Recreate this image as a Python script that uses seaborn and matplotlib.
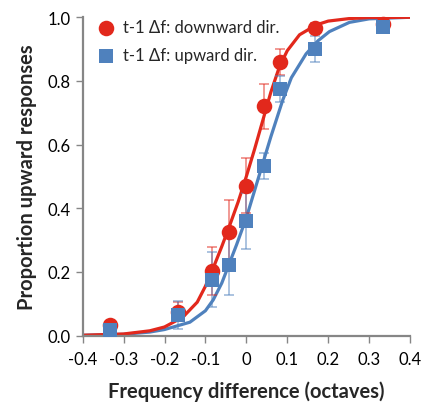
import matplotlib
matplotlib.use("Agg")
import matplotlib.pyplot as plt
import pandas as pd
import seaborn as sns

# measured points (octaves)
freq_diff = [-0.333, -0.167, -0.083, -0.042, 0.0, 0.042, 0.083, 0.167, 0.333]
down_prop = [0.034, 0.075, 0.203, 0.325, 0.471, 0.720, 0.860, 0.966, 0.980]
down_err = [0.010, 0.030, 0.075, 0.100, 0.086, 0.070, 0.040, 0.015, 0.010]
up_prop = [0.016, 0.065, 0.176, 0.222, 0.361, 0.533, 0.775, 0.900, 0.969]
up_err = [0.010, 0.045, 0.085, 0.095, 0.088, 0.042, 0.040, 0.040, 0.010]

# fitted curves
down_fit_x = [-0.4, -0.3, -0.236, -0.2, -0.155, -0.12, -0.1, -0.077, -0.06, -0.041,
              -0.02, 0.0, 0.02, 0.04, 0.06, 0.081, 0.1, 0.13, 0.171, 0.2, 0.252, 0.3, 0.4]
down_fit_y = [0.001, 0.005, 0.015, 0.027, 0.058, 0.105, 0.155, 0.225, 0.28, 0.345,
              0.42, 0.50, 0.585, 0.675, 0.765, 0.845, 0.895, 0.945, 0.976, 0.988, 0.996, 0.999, 1.0]
up_fit_x = [-0.4, -0.3, -0.236, -0.2, -0.138, -0.1, -0.081, -0.06, -0.045, -0.024,
            0.0, 0.02, 0.04, 0.06, 0.089, 0.11, 0.146, 0.175, 0.203, 0.252, 0.3, 0.4]
up_fit_y = [0.001, 0.004, 0.011, 0.019, 0.042, 0.078, 0.112, 0.165, 0.215, 0.285,
            0.37, 0.455, 0.54, 0.625, 0.74, 0.81, 0.885, 0.926, 0.955, 0.984, 0.995, 1.0]

x_ticks = [-0.4, -0.3, -0.2, -0.1, 0.0, 0.1, 0.2, 0.3, 0.4]
x_tick_labels = ["-0.4", "-0.3", "-0.2", "-0.1", "0", "0.1", "0.2", "0.3", "0.4"]
y_ticks = [0.0, 0.2, 0.4, 0.6, 0.8, 1.0]
y_tick_labels = ["0.0", "0.2", "0.4", "0.6", "0.8", "1.0"]

red = "#E2281C"
blue = "#4F81BD"
axis_grey = "#868686"

sns.set_style("white")
plt.rcParams["font.family"] = ["Lato", "DejaVu Sans"]

fig = plt.figure(figsize=(4.24, 4.06), dpi=100)
ax = fig.add_axes([0.195, 0.171, 0.772, 0.784])

fits = pd.concat([
    pd.DataFrame({"x": down_fit_x, "y": down_fit_y, "cond": "down"}),
    pd.DataFrame({"x": up_fit_x, "y": up_fit_y, "cond": "up"}),
])
sns.lineplot(data=fits, x="x", y="y", hue="cond", palette={"down": red, "up": blue},
             hue_order=["up", "down"], linewidth=2.3, legend=False, ax=ax, sort=True)

ax.errorbar(freq_diff, down_prop, yerr=down_err, fmt="none", ecolor=red, alpha=0.6,
            elinewidth=1.1, capsize=3.5, capthick=1.1, zorder=3)
ax.errorbar(freq_diff, up_prop, yerr=up_err, fmt="none", ecolor=blue, alpha=0.6,
            elinewidth=1.1, capsize=3.5, capthick=1.1, zorder=3)

sns.scatterplot(x=freq_diff, y=down_prop, color=red, marker="o", s=125, linewidth=0,
                label="t-1 \u0394f: downward dir.", ax=ax, zorder=4, clip_on=False)
sns.scatterplot(x=freq_diff, y=up_prop, color=blue, marker="s", s=100, linewidth=0,
                label="t-1 \u0394f: upward dir.", ax=ax, zorder=5, clip_on=False)

ax.set_xlim(-0.4, 0.4)
ax.set_ylim(0, 1.0)
ax.set_xticks(x_ticks)
ax.set_xticklabels(x_tick_labels)
ax.set_yticks(y_ticks)
ax.set_yticklabels(y_tick_labels)
ax.tick_params(axis="both", direction="out", length=5, width=1, color=axis_grey,
               labelsize=12, labelcolor="black", left=True, bottom=True)
ax.tick_params(axis="x", pad=6)
for side in ["top", "right"]:
    ax.spines[side].set_visible(False)
for side in ["left", "bottom"]:
    ax.spines[side].set_color(axis_grey)
    ax.spines[side].set_linewidth(1.6)

ax.set_xlabel("Frequency difference (octaves)", fontsize=14.5, fontweight="bold", labelpad=10)
ax.set_ylabel("Proportion upward responses", fontsize=14.5, fontweight="bold", labelpad=8)

ax.legend(loc="upper left", bbox_to_anchor=(-0.01, 1.025), frameon=False, fontsize=12,
          handletextpad=0.0, borderaxespad=0.2, labelspacing=0.7, markerscale=1.0)

fig.savefig("out.png", dpi=100)
